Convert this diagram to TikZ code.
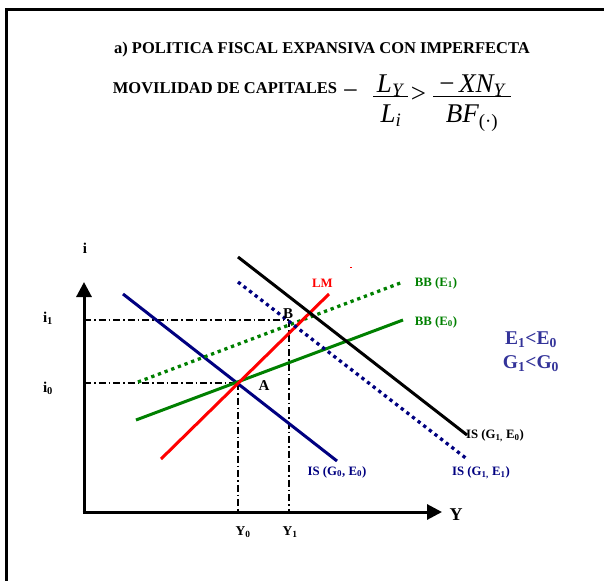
\documentclass[tikz,border=0pt]{standalone}
\usepackage{fontspec}
\setmainfont{Liberation Serif}
\usetikzlibrary{arrows.meta}
\definecolor{navyb}{RGB}{0,0,128}
\definecolor{grn}{RGB}{0,128,0}
\definecolor{purp}{RGB}{51,51,153}
\begin{document}
\begin{tikzpicture}[x=1pt,y=-1pt,
  axis/.style={line width=3pt,-{Triangle[length=15pt,width=15pt]}},
  guide/.style={line width=1.2pt,dash pattern=on 7pt off 3pt on 1.5pt off 3pt},
  solidc/.style={line width=3pt},
  dotc/.style={line width=3.3pt,dash pattern=on 3.3pt off 3.8pt},
  lbl/.style={font=\bfseries\fontsize{12.8}{14}\selectfont,inner sep=0pt},
  big/.style={font=\bfseries\fontsize{15}{17}\selectfont,inner sep=0pt},
  cond/.style={font=\bfseries\fontsize{19.5}{21}\selectfont,inner sep=0pt,text=purp},
  ttl/.style={font=\bfseries\fontsize{16.5}{18}\selectfont,inner sep=0pt},
  fml/.style={font=\itshape\fontsize{27}{30}\selectfont,inner sep=0pt,anchor=base},
  fmlu/.style={font=\fontsize{27}{30}\selectfont,inner sep=0pt},
  fbar/.style={line width=1.3pt}]
\useasboundingbox (0,0) rectangle (604,580);
% frame
\draw[line width=2.4pt] (6.3,590) -- (6.3,9.5) -- (614,9.5);
% title
\node[ttl] (t1) at (322,50) {a) POLITICA FISCAL EXPANSIVA CON IMPERFECTA};
\node[ttl] (t2) at (225,88) {MOVILIDAD DE CAPITALES};
% formula
\node[fmlu] (m1) at (350.5,95) {−};
\node[fml] (n1) at (390,93) {L\textsubscript{Y}};
\node[fml] (d1) at (391,123) {L\textsubscript{i}};
\coordinate (b1l) at (373,96.5);
\coordinate (b1r) at (408,96.5);
\draw[fbar] (b1l) -- (b1r);
\node[fmlu] (gt) at (418.5,95) {>};
\node[fml] (n2) at (472,93) {{\upshape −}\,XN\textsubscript{Y}};
\node[fml] (d2) at (472,123) {BF\textsubscript{\upshape(·)}};
\coordinate (b2l) at (433,96.5);
\coordinate (b2r) at (511,96.5);
\draw[fbar] (b2l) -- (b2r);
% axes
\coordinate (O) at (84,512);
\coordinate (Ytop) at (84,282);
\coordinate (Xend) at (442,512);
\draw[axis] (O) -- (Ytop);
\draw[axis] ([xshift=-1.5pt]O) -- (Xend);
% points
\coordinate (A) at (238,383);
\coordinate (B) at (289,320);
\coordinate (i0) at (84,383);
\coordinate (i1) at (84,320);
\coordinate (Y0) at (238,512);
\coordinate (Y1) at (289,512);
% guides
\draw[guide] (i1) -- (B);
\draw[guide] (i0) -- (A);
\draw[guide] (A) -- (Y0);
\draw[guide] (B) -- (Y1);
% curves endpoints
\coordinate (is0a) at (123,294);
\coordinate (is0b) at (337,461);
\coordinate (lma) at (161,459);
\coordinate (lmb) at (329,294);
\coordinate (bb0a) at (136,420);
\coordinate (bb0b) at (403,320);
\coordinate (bb1a) at (138,382);
\coordinate (bb1b) at (403,282);
\coordinate (is1a) at (238,257);
\coordinate (is1b) at (467,435);
\coordinate (is2a) at (238,282);
\coordinate (is2b) at (467,459);
% curves
\draw[solidc,navyb] (is0a) -- (is0b);
\draw[solidc,grn] (bb0a) -- (bb0b);
\draw[dotc,grn] (bb1a) -- (bb1b);
\draw[solidc,red] (lma) -- (lmb);
\draw[solidc,black] (is1a) -- (is1b);
\draw[dotc,navyb] (is2a) -- (is2b);
\coordinate (rm1) at (350,267.5);
\coordinate (rm2) at (352,267.5);
\draw[red,line width=1pt] (rm1) -- (rm2);
% labels
\node[big] (li) at (85,248) {i};
\node[big] (li1) at (48,318) {i\textsubscript{1}};
\node[big] (li0) at (48,388) {i\textsubscript{0}};
\node[big] (lA) at (264,386) {A};
\node[big] (lB) at (288,314) {B};
\node[lbl,red] (lLM) at (322.5,283) {LM};
\node[lbl,grn] (lbb1) at (436,283) {BB (E\textsubscript{1})};
\node[lbl,grn] (lbb0) at (436,322) {BB (E\textsubscript{0})};
\node[cond] (c1) at (531,340) {E\textsubscript{1}<E\textsubscript{0}};
\node[cond] (c2) at (531,364) {G\textsubscript{1}<G\textsubscript{0}};
\node[lbl,black] (lis1) at (495,436) {IS (G\textsubscript{1,} E\textsubscript{0})};
\node[lbl,navyb] (lis2) at (481,473) {IS (G\textsubscript{1,} E\textsubscript{1})};
\node[lbl,navyb] (lis0) at (337,472) {IS (G\textsubscript{0}, E\textsubscript{0})};
\node[big,font=\bfseries\fontsize{18}{20}\selectfont] (lY) at (456,515) {Y};
\node[lbl,font=\bfseries\fontsize{13.5}{15}\selectfont] (lY0) at (243,532) {Y\textsubscript{0}};
\node[lbl,font=\bfseries\fontsize{13.5}{15}\selectfont] (lY1) at (290,532) {Y\textsubscript{1}};
\end{tikzpicture}
\end{document}
